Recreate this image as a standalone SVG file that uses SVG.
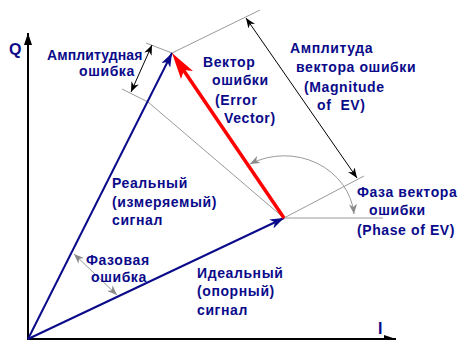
<svg xmlns="http://www.w3.org/2000/svg" width="465" height="340" viewBox="0 0 465 340">
<style>
  text { font-family: "Liberation Sans", Arial, sans-serif; font-weight: bold; font-size: 14px; fill: #0a0a8a; letter-spacing: 0.6px; white-space: pre; }
  .ax { stroke: #000; stroke-width: 2; fill: none; }
  .vec { stroke: #0a0a8a; stroke-width: 2; fill: none; }
  .gry { stroke: #9a9a9a; stroke-width: 1; fill: none; }
  .blk { stroke: #000; stroke-width: 1; fill: none; }
</style>
<defs>
  <marker id="aBlack" markerUnits="userSpaceOnUse" markerWidth="10" markerHeight="8" refX="10" refY="4" orient="auto-start-reverse">
    <path d="M0,0 L10,4 L0,8 L3,4 z" fill="#000"/>
  </marker>
  <marker id="aAxis" markerUnits="userSpaceOnUse" markerWidth="12" markerHeight="8" refX="12" refY="4" orient="auto">
    <path d="M0,0 L12,4 L0,8 z" fill="#000"/>
  </marker>
  <marker id="aGray" markerUnits="userSpaceOnUse" markerWidth="10" markerHeight="8" refX="10" refY="4" orient="auto-start-reverse">
    <path d="M0,0 L10,4 L0,8 L3,4 z" fill="#8a8a8a"/>
  </marker>
  <marker id="aBlue" markerUnits="userSpaceOnUse" markerWidth="14" markerHeight="10" refX="14" refY="5" orient="auto">
    <path d="M0,0 L14,5 L0,10 L4,5 z" fill="#0a0a8a"/>
  </marker>
</defs>

<g id="axes">
  <line class="ax" x1="28" y1="339" x2="28" y2="33" marker-end="url(#aAxis)"/>
  <line class="ax" x1="27" y1="339" x2="396" y2="339" marker-end="url(#aAxis)"/>
  <text x="9" y="55" style="font-size:16px">Q</text>
  <text x="378" y="334" style="font-size:16px">I</text>
</g>

<g id="connectors">
  <!-- construction lines -->
  <polyline class="gry" points="146,43 172,53 260,10"/>
  <polyline class="gry" points="122,89 148,102 284,218"/>
  <line class="gry" x1="284" y1="218" x2="364" y2="176"/>
  <line class="gry" x1="284" y1="218" x2="383" y2="218"/>
  <!-- amplitude error -->
  <line class="blk" x1="152" y1="45" x2="131" y2="92" marker-start="url(#aBlack)" marker-end="url(#aBlack)"/>
  <!-- magnitude of EV -->
  <line class="blk" x1="246" y1="18" x2="357" y2="178" marker-start="url(#aBlack)" marker-end="url(#aBlack)"/>
  <!-- phase of EV arc -->
  <path class="gry" d="M250,164 A70,64 0 0 1 354,214" marker-start="url(#aGray)" marker-end="url(#aGray)"/>
  <!-- phase error -->
  <line class="gry" x1="74" y1="254" x2="117" y2="295" marker-start="url(#aGray)" marker-end="url(#aGray)"/>
  <!-- vectors -->
  <line class="vec" x1="28" y1="339" x2="284" y2="218" marker-end="url(#aBlue)"/>
  <line class="vec" x1="28" y1="339" x2="172" y2="53" marker-end="url(#aBlue)"/>
  <line x1="284" y1="218" x2="180" y2="65" stroke="#ff0000" stroke-width="3.5"/>
  <polygon points="172,53 193,71 184,70 181,79" fill="#ff0000"/>
</g>

<g id="amp-error-label">
  <text x="47" y="60" style="letter-spacing:0.1px">Амплитудная</text>
  <text x="79" y="76">ошибка</text>
</g>
<g id="error-vector-label">
  <text x="203" y="67">Вектор</text>
  <text x="212" y="85">ошибки</text>
  <text x="215" y="105">(Error</text>
  <text x="224" y="123">Vector)</text>
</g>
<g id="magnitude-label">
  <text x="290" y="53">Амплитуда</text>
  <text x="296" y="72">вектора ошибки</text>
  <text x="304" y="92">(Magnitude</text>
  <text x="317" y="110">of  EV)</text>
</g>
<g id="phase-ev-label">
  <text x="357" y="197">Фаза вектора</text>
  <text x="369" y="215">ошибки</text>
  <text x="357" y="235">(Phase of EV)</text>
</g>
<g id="real-label">
  <text x="112" y="188">Реальный</text>
  <text x="112" y="207">(измеряемый)</text>
  <text x="112" y="225">сигнал</text>
</g>
<g id="phase-error-label">
  <text x="86" y="265">Фазовая</text>
  <text x="91" y="282">ошибка</text>
</g>
<g id="ideal-label">
  <text x="197" y="278">Идеальный</text>
  <text x="197" y="296">(опорный)</text>
  <text x="197" y="315">сигнал</text>
</g>
</svg>
